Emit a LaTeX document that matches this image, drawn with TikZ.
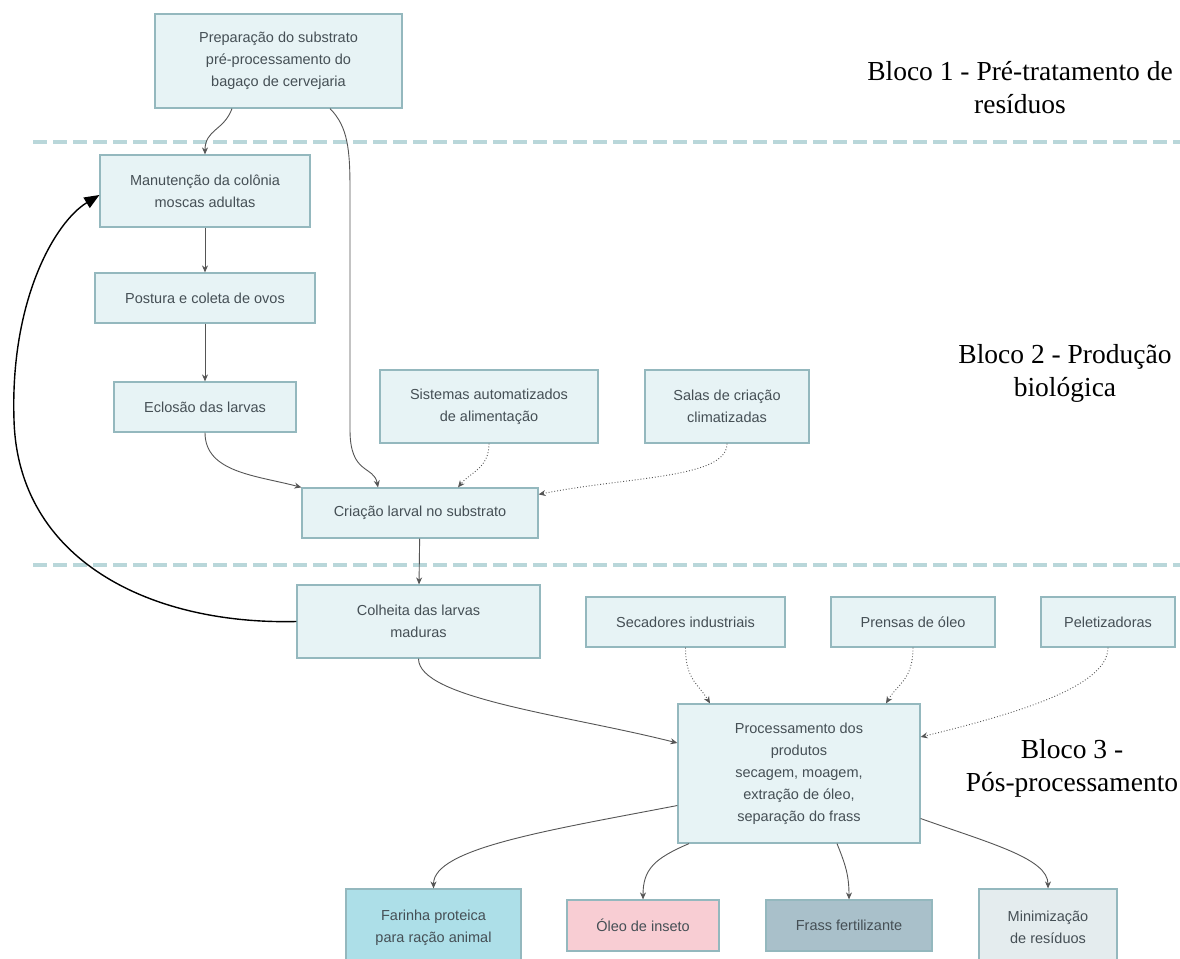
\documentclass[tikz,border=0pt]{standalone}
\usepackage{fontspec}
\usetikzlibrary{arrows.meta}
\newfontfamily\boxfont{Liberation Sans}
\newfontfamily\labfont{Liberation Serif}
\definecolor{boxfill}{HTML}{E7F3F5}
\definecolor{boxline}{HTML}{94B8BE}
\definecolor{txt}{HTML}{454F55}
\definecolor{dashcol}{HTML}{B9D7DA}
\definecolor{arrcol}{HTML}{555555}
\definecolor{farfill}{HTML}{ADDFE8}
\definecolor{olefill}{HTML}{F8CDD3}
\definecolor{frafill}{HTML}{A9C0CA}
\definecolor{minfill}{HTML}{E4ECEE}
\begin{document}
\begin{tikzpicture}[x=1pt,y=-1pt,
  box/.style={draw=boxline, fill=boxfill, line width=1.2pt, text=txt,
    font=\boxfont\fontsize{14.5}{22}\selectfont, align=center, inner sep=0pt},
  blocklabel/.style={font=\labfont\fontsize{27.5}{33}\selectfont, align=center, text=black, inner sep=0pt},
  sep/.style={dashcol, line width=4pt, dash pattern=on 14pt off 6pt},
  flow/.style={arrcol, line width=0.9pt, -{Stealth[length=7pt,width=6pt]}},
  aux/.style={arrcol, line width=0.9pt, dotted, -{Stealth[length=7pt,width=6pt]}},
  loop/.style={black, line width=1.4pt, -{Triangle[length=15pt,width=12pt]}}]
\useasboundingbox (0,0) rectangle (1180,958);
\fill[white] (0,0) rectangle (1180,958);

% separators
\coordinate (s1a) at (33,142); \coordinate (s1b) at (1180,142);
\coordinate (s2a) at (33,565); \coordinate (s2b) at (1180,565);
\draw[sep] (s1a) -- (s1b);
\draw[sep] (s2a) -- (s2b);

% block labels
\node[blocklabel] (b1) at (1020,88) {Bloco 1 - Pré-tratamento de\\resíduos};
\node[blocklabel] (b2) at (1065,373) {Bloco 2 - Produção\\biológica};
\node[blocklabel] (b3) at (1072,768) {Bloco 3 -\\Pós-processamento};

% boxes
\node[box, minimum width=247pt, minimum height=94pt] (prep) at (278.5,61) {Preparação do substrato\\pré-processamento do\\bagaço de cervejaria};
\node[box, minimum width=210pt, minimum height=72pt] (manut) at (205,191) {Manutenção da colônia\\moscas adultas};
\node[box, minimum width=220pt, minimum height=50pt] (post) at (205,298) {Postura e coleta de ovos};
\node[box, minimum width=182pt, minimum height=50pt] (eclo) at (205,407) {Eclosão das larvas};
\node[box, minimum width=218pt, minimum height=73pt] (sist) at (489,406.5) {Sistemas automatizados\\de alimentação};
\node[box, minimum width=164pt, minimum height=73pt] (salas) at (727,406.5) {Salas de criação\\climatizadas};
\node[box, minimum width=236pt, minimum height=50pt] (cria) at (420,513) {Criação larval no substrato};
\node[box, minimum width=243pt, minimum height=73pt] (colh) at (418.5,621.5) {Colheita das larvas\\maduras};
\node[box, minimum width=199pt, minimum height=50pt] (sec) at (685.5,622) {Secadores industriais};
\node[box, minimum width=164pt, minimum height=50pt] (pren) at (913,622) {Prensas de óleo};
\node[box, minimum width=134pt, minimum height=50pt] (pele) at (1108,622) {Peletizadoras};
\node[box, minimum width=242pt, minimum height=139pt] (proc) at (799,773.5) {Processamento dos\\produtos\\secagem, moagem,\\extração de óleo,\\separação do frass};
\node[box, fill=farfill, minimum width=175pt, minimum height=77pt] (far) at (433.5,927.5) {Farinha proteica\\para ração animal};
\node[box, fill=olefill, minimum width=152pt, minimum height=51pt] (ole) at (643,925.5) {Óleo de inseto};
\node[box, fill=frafill, minimum width=166pt, minimum height=51pt] (fra) at (849,925.5) {Frass fertilizante};
\node[box, fill=minfill, minimum width=138pt, minimum height=77pt] (mini) at (1048,927.5) {Minimização\\de resíduos};

% connectors
\draw[flow] ([xshift=-46.5pt]prep.south) .. controls +(-8,22) and +(0,-25) .. (manut.north);
\coordinate (v1) at (350,190);
\coordinate (v2) at (350,430);
\draw[flow] ([xshift=51.5pt]prep.south) .. controls +(18,18) and +(0,-40) .. (v1) -- (v2) .. controls +(0,45) and +(-4,-22) .. ([xshift=-42pt]cria.north);
\draw[flow] (manut) -- (post);
\draw[flow] (post) -- (eclo);
\draw[flow] (eclo.south) .. controls +(0,40) and +(-45,-12) .. (cria.north west);
\draw[aux] (sist.south) .. controls +(0,25) and +(12,-15) .. ([xshift=38pt]cria.north);
\draw[aux] (salas.south) .. controls +(0,35) and +(90,-18) .. ([yshift=-7pt]cria.north east);
\draw[flow] (cria) -- (colh);
\draw[flow] (colh.south) .. controls +(0,40) and +(-110,-28) .. ([yshift=30.5pt]proc.west);
\coordinate (lp) at (14,420);
\draw[loop] (colh.west) .. controls (150,625) and (18,560) .. (lp) .. controls (10,300) and (55,222) .. ([yshift=-4pt]manut.west);
\draw[aux] (sec.south) .. controls +(0,32) and +(-12,-20) .. ([xshift=-89pt]proc.north);
\draw[aux] (pren.south) .. controls +(0,32) and +(12,-20) .. ([xshift=87pt]proc.north);
\draw[aux] (pele.south) .. controls +(0,40) and +(90,-22) .. ([yshift=36.5pt]proc.east);
\draw[flow] ([yshift=-32pt]proc.west) .. controls +(-130,25) and +(0,-40) .. (far.north);
\draw[flow] ([xshift=-110pt]proc.south) .. controls +(-35,15) and +(0,-30) .. (ole.north);
\draw[flow] ([xshift=38pt]proc.south) .. controls +(8,20) and +(0,-25) .. (fra.north);
\draw[flow] ([yshift=-45pt]proc.east) .. controls +(70,25) and +(0,-30) .. (mini.north);
\end{tikzpicture}
\end{document}
